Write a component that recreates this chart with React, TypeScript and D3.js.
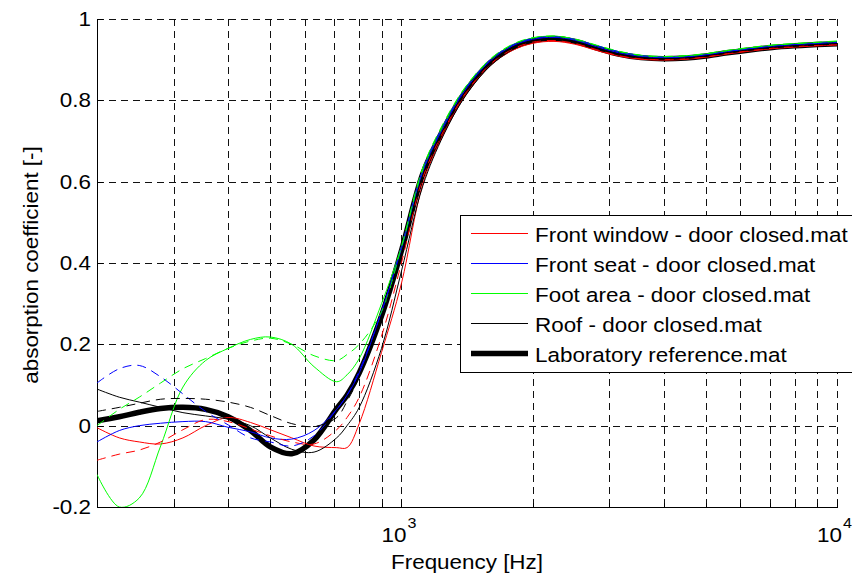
import React, { useEffect, useRef } from 'react';
import * as d3 from 'd3';

// frequency points (Hz), shared by every curve
const freqs = [200, 225, 250, 280, 315, 355, 400, 450, 500, 560, 630, 710, 750, 800, 900, 1000, 1120, 1250, 1400, 1600, 1800, 2000, 2240, 2500, 2800, 3150, 3550, 4000, 4500, 5000, 5600, 6300, 7100, 8000, 9000, 10000];

const labReference = [0.012, 0.022, 0.033, 0.042, 0.045, 0.04, 0.022, -0.012, -0.052, -0.069, -0.035, 0.042, 0.075, 0.13, 0.27, 0.43, 0.62, 0.73, 0.82, 0.893, 0.93, 0.947, 0.952, 0.945, 0.929, 0.914, 0.905, 0.902, 0.904, 0.909, 0.917, 0.924, 0.93, 0.934, 0.937, 0.939];

const frontWindow = [-0.005, -0.03, -0.04, -0.045, -0.03, 0.0, 0.02, 0.008, -0.01, -0.03, -0.05, -0.054, -0.054, 0.005, 0.18, 0.35, 0.595, 0.718, 0.812, 0.886, 0.923, 0.94, 0.945, 0.938, 0.923, 0.909, 0.901, 0.899, 0.901, 0.906, 0.914, 0.921, 0.927, 0.931, 0.934, 0.936];
const frontWindowB = [-0.085, -0.07, -0.06, -0.04, -0.01, 0.015, 0.01, -0.008, -0.025, -0.04, -0.045, -0.01, 0.02, 0.07, 0.22, 0.4, 0.61, 0.725, 0.816, 0.889, 0.926, 0.943, 0.947, 0.94, 0.925, 0.91, 0.902, 0.9, 0.902, 0.907, 0.915, 0.922, 0.928, 0.932, 0.935, 0.937];

const frontSeat = [-0.04, -0.012, 0.0, 0.006, 0.01, 0.01, -0.004, -0.015, -0.03, -0.033, -0.012, 0.04, 0.075, 0.13, 0.28, 0.435, 0.625, 0.735, 0.825, 0.897, 0.934, 0.95, 0.955, 0.948, 0.932, 0.917, 0.908, 0.905, 0.907, 0.912, 0.92, 0.927, 0.933, 0.937, 0.94, 0.942];
const frontSeatB = [0.105, 0.14, 0.148, 0.12, 0.078, 0.035, 0.002, -0.03, -0.04, -0.05, -0.025, 0.04, 0.075, 0.135, 0.28, 0.44, 0.63, 0.74, 0.828, 0.9, 0.936, 0.952, 0.956, 0.95, 0.935, 0.92, 0.91, 0.906, 0.907, 0.912, 0.92, 0.927, 0.933, 0.937, 0.94, 0.943];

const footArea = [-0.12, -0.2, -0.178, -0.05, 0.095, 0.16, 0.19, 0.212, 0.218, 0.2, 0.145, 0.108, 0.125, 0.165, 0.3, 0.44, 0.63, 0.74, 0.83, 0.9, 0.937, 0.953, 0.958, 0.95, 0.935, 0.92, 0.91, 0.907, 0.909, 0.914, 0.922, 0.929, 0.935, 0.939, 0.942, 0.945];
const footAreaB = [0.0, 0.04, 0.07, 0.105, 0.14, 0.165, 0.19, 0.208, 0.215, 0.2, 0.172, 0.16, 0.175, 0.2, 0.28, 0.44, 0.635, 0.745, 0.832, 0.902, 0.938, 0.954, 0.958, 0.951, 0.936, 0.921, 0.911, 0.908, 0.91, 0.915, 0.923, 0.93, 0.936, 0.94, 0.943, 0.946];

const roof = [0.09, 0.07, 0.058, 0.045, 0.032, 0.024, 0.016, 0.0, -0.03, -0.058, -0.065, -0.03, 0.0, 0.045, 0.19, 0.38, 0.59, 0.715, 0.81, 0.885, 0.925, 0.944, 0.95, 0.943, 0.928, 0.913, 0.904, 0.901, 0.903, 0.908, 0.916, 0.923, 0.929, 0.933, 0.936, 0.938];
const roofB = [0.035, 0.045, 0.055, 0.065, 0.067, 0.065, 0.058, 0.045, 0.025, 0.005, -0.002, 0.02, 0.06, 0.12, 0.27, 0.42, 0.615, 0.728, 0.818, 0.89, 0.928, 0.946, 0.951, 0.944, 0.929, 0.914, 0.905, 0.902, 0.904, 0.909, 0.917, 0.924, 0.93, 0.934, 0.937, 0.94];

const legendLabels = [
  'Front window - door closed.mat',
  'Front seat - door closed.mat',
  'Foot area - door closed.mat',
  'Roof - door closed.mat',
  'Laboratory reference.mat',
];
const yTicks = [-0.2, 0, 0.2, 0.4, 0.6, 0.8, 1];
const xLabelTicks = [1000, 10000];

const FONT = '"Liberation Sans", Arial, Helvetica, sans-serif';
const FS = 19.5;
const SX = 1.15;

const App: React.FC = () => {
  const svgRef = useRef<SVGSVGElement | null>(null);

  useEffect(() => {
    document.body.style.margin = '0';
    if (!svgRef.current) return;

    const width = 852;
    const height = 577;
    const plot = { left: 97, right: 837, top: 19, bottom: 507 };

    const svg = d3.select(svgRef.current);
    svg.selectAll('*').remove();
    svg.attr('width', width).attr('height', height).style('display', 'block').style('background', '#fff');

    const x = d3.scaleLog().domain([200, 10000]).range([plot.left, plot.right]);
    const y = d3.scaleLinear().domain([-0.2, 1]).range([plot.bottom, plot.top]);
    const px = (v: number) => Math.round(v) + 0.5;

    // stretched text like the MATLAB export
    const label = (
      parent: d3.Selection<any, unknown, null, undefined>,
      tx: number,
      ty: number,
      str: string,
      anchor: string,
      rotate = 0,
      size = FS,
    ) =>
      parent
        .append('g')
        .attr('transform', `translate(${tx},${ty}) rotate(${rotate}) scale(${SX},1)`)
        .append('text')
        .attr('text-anchor', anchor)
        .style('font-family', FONT)
        .style('font-size', `${size}px`)
        .attr('fill', '#000')
        .text(str);

    svg.append('defs').append('clipPath').attr('id', 'plotClip')
      .append('rect')
      .attr('x', plot.left).attr('y', plot.top - 3)
      .attr('width', plot.right - plot.left + 3).attr('height', plot.bottom - plot.top + 3);

    // Grid
    const grid = svg.append('g').attr('stroke', '#111').attr('stroke-width', 1).attr('stroke-dasharray', '7,5');
    x.ticks().filter((t) => t > 200).forEach((t) => {
      grid.append('line')
        .attr('x1', px(x(t))).attr('x2', px(x(t)))
        .attr('y1', plot.top).attr('y2', plot.bottom);
    });
    yTicks.filter((t) => t > -0.2).forEach((t) => {
      grid.append('line')
        .attr('x1', plot.left).attr('x2', plot.right)
        .attr('y1', px(y(t))).attr('y2', px(y(t)));
    });

    // Axes lines + inward ticks
    const axes = svg.append('g').attr('stroke', '#000').attr('stroke-width', 1);
    axes.append('line').attr('x1', px(plot.left)).attr('x2', px(plot.left)).attr('y1', plot.top).attr('y2', plot.bottom + 0.5);
    axes.append('line').attr('x1', plot.left).attr('x2', plot.right + 1).attr('y1', px(plot.bottom)).attr('y2', px(plot.bottom));
    yTicks.forEach((t) => {
      axes.append('line').attr('x1', plot.left).attr('x2', plot.left + 6).attr('y1', px(y(t))).attr('y2', px(y(t)));
    });
    x.ticks().filter((t) => t > 200).forEach((t) => {
      const major = t === 1000 || t === 10000;
      axes.append('line')
        .attr('x1', px(x(t))).attr('x2', px(x(t)))
        .attr('y1', plot.bottom).attr('y2', plot.bottom - (major ? 7 : 4));
    });

    // Tick labels
    yTicks.forEach((t) => {
      label(svg, 91, y(t) + 7, t === 0 ? '0' : d3.format('')(+t.toFixed(1)).replace('−', '-'), 'end');
    });
    xLabelTicks.forEach((t) => {
      label(svg, x(t) + 5, 542, '10', 'end');
      label(svg, x(t) + 6, 528, String(Math.round(Math.log10(t))), 'start', 0, 14);
    });

    // Axis titles
    label(svg, (plot.left + plot.right) / 2, 569, 'Frequency [Hz]', 'middle');
    label(svg, 38, 265, 'absorption coefficient [-]', 'middle', -90);

    // Curves
    const line = d3
      .line<number>()
      .x((_, i) => x(freqs[i]))
      .y((d) => y(d))
      .curve(d3.curveCatmullRom.alpha(0.5));

    const curves = [
      { values: labReference, color: '#000', width: 5.5, dash: null },
      { values: frontWindow, color: '#ff0000', width: 1, dash: null },
      { values: frontSeat, color: '#0000ff', width: 1, dash: null },
      { values: footArea, color: '#00ff00', width: 1, dash: null },
      { values: roof, color: '#000', width: 1, dash: null },
      { values: frontWindowB, color: '#ff0000', width: 1, dash: '9,6' },
      { values: frontSeatB, color: '#0000ff', width: 1, dash: '9,6' },
      { values: footAreaB, color: '#00ff00', width: 1, dash: '9,6' },
      { values: roofB, color: '#000', width: 1, dash: '9,6' },
    ];

    const curveGroup = svg.append('g').attr('clip-path', 'url(#plotClip)');
    curves.forEach((c) => {
      curveGroup.append('path')
        .datum(c.values)
        .attr('d', line)
        .attr('fill', 'none')
        .attr('stroke', c.color)
        .attr('stroke-width', c.width)
        .attr('stroke-linejoin', 'round')
        .attr('stroke-dasharray', c.dash);
    });

    // Legend
    const legendColors = ['#ff0000', '#0000ff', '#00ff00', '#000', '#000'];
    const legendWidths = [1, 1, 1, 1, 5.5];
    const legend = svg.append('g');
    legend.append('rect')
      .attr('x', 460.5).attr('y', 215.5)
      .attr('width', 400).attr('height', 157)
      .attr('fill', '#fff').attr('stroke', '#000').attr('stroke-width', 1);
    legendLabels.forEach((name, i) => {
      const ry = 233.5 + i * 30;
      legend.append('line')
        .attr('x1', 471).attr('x2', 528)
        .attr('y1', ry).attr('y2', ry)
        .attr('stroke', legendColors[i])
        .attr('stroke-width', legendWidths[i]);
      label(legend, 535, ry + 8, name, 'start');
    });
  }, []);

  return <svg ref={svgRef}></svg>;
};

export default App;
